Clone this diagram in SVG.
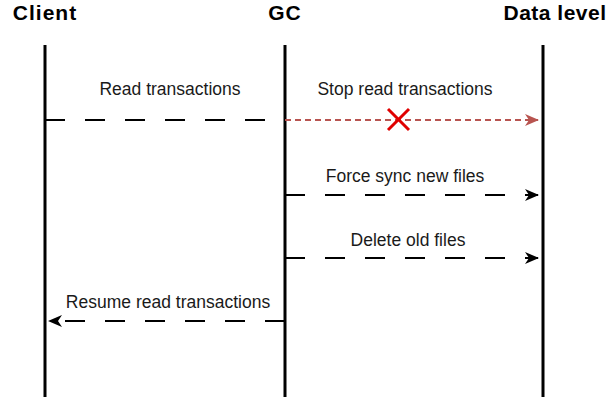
<svg xmlns="http://www.w3.org/2000/svg" width="614" height="403" viewBox="0 0 614 403">
  <style>
    .head { font-family: "Liberation Sans", Arial, sans-serif; font-size: 21px; font-weight: bold; fill: #000; text-anchor: middle; }
    .lbl { font-family: "Liberation Sans", Arial, sans-serif; font-size: 17.5px; fill: #1a1a1a; text-anchor: middle; }
    .life { stroke: #000; stroke-width: 3; fill: none; }
    .msg { stroke: #000; stroke-width: 2; fill: none; stroke-dasharray: 20 20; }
    .stop { stroke: #b85450; stroke-width: 2; fill: none; stroke-dasharray: 6 4; }
  </style>
  <defs>
    <marker id="arrowBlack" viewBox="0 0 14 12" refX="13" refY="6" markerWidth="14" markerHeight="12" markerUnits="userSpaceOnUse" orient="auto">
      <path d="M0,0 L14,6 L0,12 L4,6 Z" fill="#000"/>
    </marker>
    <marker id="arrowRed" viewBox="0 0 14 12" refX="13" refY="6" markerWidth="14" markerHeight="12" markerUnits="userSpaceOnUse" orient="auto">
      <path d="M0,0 L14,6 L0,12 L4,6 Z" fill="#b85450"/>
    </marker>
  </defs>

  <g id="client">
    <text class="head" x="45" y="20" letter-spacing="1">Client</text>
    <line class="life" x1="45" y1="45" x2="45" y2="397"/>
  </g>
  <g id="gc">
    <text class="head" x="285" y="20" letter-spacing="1">GC</text>
    <line class="life" x1="285" y1="45" x2="285" y2="397"/>
  </g>
  <g id="data-level">
    <text class="head" x="555" y="20" letter-spacing="0.5">Data level</text>
    <line class="life" x1="543" y1="45" x2="543" y2="397"/>
  </g>

  <g id="connectors">
    <line class="msg" x1="45" y1="120" x2="285" y2="120"/>
    <text class="lbl" x="170" y="95">Read transactions</text>

    <line class="stop" x1="285" y1="120" x2="538" y2="120" marker-end="url(#arrowRed)"/>
    <text class="lbl" x="405" y="95">Stop read transactions</text>
    <g id="blocked" stroke="#e00000" stroke-width="3">
      <line x1="388" y1="109" x2="409" y2="130"/>
      <line x1="409" y1="109" x2="388" y2="130"/>
    </g>

    <line class="msg" x1="285" y1="195" x2="538" y2="195" marker-end="url(#arrowBlack)"/>
    <text class="lbl" x="405" y="182">Force sync new files</text>

    <line class="msg" x1="285" y1="258" x2="538" y2="258" marker-end="url(#arrowBlack)"/>
    <text class="lbl" x="408" y="246">Delete old files</text>

    <line class="msg" x1="285" y1="321" x2="49" y2="321" marker-end="url(#arrowBlack)"/>
    <text class="lbl" x="168" y="308">Resume read transactions</text>
  </g>
</svg>
